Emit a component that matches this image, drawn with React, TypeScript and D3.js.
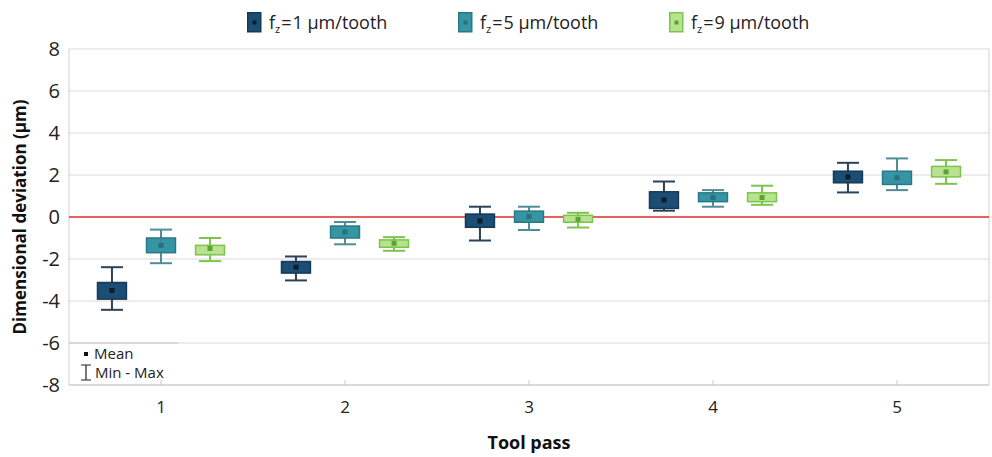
import * as d3 from "d3";
import { useEffect, useRef } from "react";

// tool passes and feed rates
const passes = ["1", "2", "3", "4", "5"];
const series = ["1", "5", "9"];

// [min, q1, mean, q3, max] per pass
const fz1 = [
  [-4.42, -3.91, -3.5, -3.12, -2.39],
  [-3.02, -2.67, -2.39, -2.12, -1.88],
  [-1.12, -0.49, -0.19, 0.14, 0.49],
  [0.3, 0.41, 0.81, 1.2, 1.69],
  [1.17, 1.63, 1.91, 2.18, 2.58],
];
const fz5 = [
  [-2.2, -1.7, -1.35, -1.0, -0.6],
  [-1.3, -1.0, -0.71, -0.43, -0.24],
  [-0.62, -0.25, 0.02, 0.28, 0.49],
  [0.49, 0.73, 0.93, 1.15, 1.28],
  [1.28, 1.55, 1.87, 2.18, 2.79],
];
const fz9 = [
  [-2.1, -1.8, -1.5, -1.35, -1.0],
  [-1.61, -1.44, -1.25, -1.09, -0.96],
  [-0.5, -0.25, -0.11, 0.08, 0.2],
  [0.58, 0.73, 0.93, 1.15, 1.49],
  [1.58, 1.91, 2.15, 2.41, 2.71],
];
const yTicks = [-8, -6, -4, -2, 0, 2, 4, 6, 8];

const fills = ["#1c4e74", "#3595a4", "#b8e28f"];
const strokes = ["#143a57", "#2a7885", "#7cc44c"];
const whiskers = ["#2d4256", "#4f8d97", "#7cc44c"];
const means = ["#0b1e2e", "#2d6f78", "#5aa532"];

const font = "'Open Sans', 'Noto Sans', sans-serif";

function App() {
  const ref = useRef<SVGSVGElement>(null);

  useEffect(() => {
    const width = 992, height = 457;
    const left = 69, right = 989, top = 49, bottom = 385;

    const svg = d3.select(ref.current);
    svg.selectAll("*").remove();

    const x = d3.scaleBand().domain(passes).range([left, right]);
    const x1 = d3.scaleBand().domain(series).range([-63.5, 63.5]).paddingInner(0.41);
    const y = d3.scaleLinear().domain([-8, 8]).range([bottom, top]);

    // grid
    svg.append("g")
      .selectAll("line")
      .data(yTicks)
      .join("line")
      .attr("x1", left).attr("x2", right)
      .attr("y1", (d) => y(d)).attr("y2", (d) => y(d))
      .attr("stroke", "#d9d9d9").attr("stroke-width", 1);

    // frame
    svg.append("line").attr("x1", left).attr("x2", left).attr("y1", top).attr("y2", bottom)
      .attr("stroke", "#d0d0d0");
    svg.append("line").attr("x1", right).attr("x2", right).attr("y1", top).attr("y2", bottom)
      .attr("stroke", "#d0d0d0");
    svg.append("line").attr("x1", left).attr("x2", right).attr("y1", bottom).attr("y2", bottom)
      .attr("stroke", "#c8c8c8");

    // x ticks (inward)
    svg.append("g")
      .selectAll("line")
      .data(passes)
      .join("line")
      .attr("x1", (d) => x(d)! + x.bandwidth() / 2)
      .attr("x2", (d) => x(d)! + x.bandwidth() / 2)
      .attr("y1", bottom).attr("y2", bottom - 5)
      .attr("stroke", "#c8c8c8");

    // zero line
    svg.append("line").attr("x1", left).attr("x2", right).attr("y1", y(0)).attr("y2", y(0))
      .attr("stroke", "#e8312f").attr("stroke-width", 1.3);

    // y tick labels
    svg.append("g")
      .selectAll("text")
      .data(yTicks)
      .join("text")
      .attr("x", left - 9)
      .attr("y", (d) => y(d))
      .attr("dy", "0.35em")
      .attr("text-anchor", "end")
      .style("font-family", font)
      .style("font-size", "20px")
      .attr("fill", "#222")
      .text((d) => d);

    // x tick labels
    svg.append("g")
      .selectAll("text")
      .data(passes)
      .join("text")
      .attr("x", (d) => x(d)! + x.bandwidth() / 2)
      .attr("y", 413)
      .attr("text-anchor", "middle")
      .style("font-family", font)
      .style("font-size", "17px")
      .attr("fill", "#222")
      .text((d) => d);

    // axis titles
    svg.append("text")
      .attr("transform", `translate(26, ${y(0)}) rotate(-90)`)
      .attr("text-anchor", "middle")
      .style("font-family", font)
      .style("font-size", "17px")
      .style("font-weight", "bold")
      .attr("fill", "#111")
      .text("Dimensional deviation (µm)");
    svg.append("text")
      .attr("x", (left + right) / 2)
      .attr("y", 449)
      .attr("text-anchor", "middle")
      .style("font-family", font)
      .style("font-size", "18px")
      .style("font-weight", "bold")
      .attr("fill", "#111")
      .text("Tool pass");

    // boxes
    const all = [fz1, fz5, fz9];
    const capW = 22;
    all.forEach((data, si) => {
      const g = svg.append("g");
      const cx = (i: number) => x(passes[i])! + x.bandwidth() / 2 + x1(series[si])! + x1.bandwidth() / 2;
      const bw = x1.bandwidth();
      const groups = g.selectAll("g").data(data).join("g");
      // whiskers
      groups.append("line")
        .attr("x1", (_, i) => cx(i)).attr("x2", (_, i) => cx(i))
        .attr("y1", (d) => y(d[0])).attr("y2", (d) => y(d[4]))
        .attr("stroke", whiskers[si]).attr("stroke-width", 2);
      groups.append("line")
        .attr("x1", (_, i) => cx(i) - capW / 2).attr("x2", (_, i) => cx(i) + capW / 2)
        .attr("y1", (d) => y(d[0])).attr("y2", (d) => y(d[0]))
        .attr("stroke", whiskers[si]).attr("stroke-width", 2);
      groups.append("line")
        .attr("x1", (_, i) => cx(i) - capW / 2).attr("x2", (_, i) => cx(i) + capW / 2)
        .attr("y1", (d) => y(d[4])).attr("y2", (d) => y(d[4]))
        .attr("stroke", whiskers[si]).attr("stroke-width", 2);
      groups.append("rect")
        .attr("x", (_, i) => cx(i) - bw / 2)
        .attr("width", bw)
        .attr("y", (d) => y(d[3]))
        .attr("height", (d) => y(d[1]) - y(d[3]))
        .attr("fill", fills[si])
        .attr("stroke", strokes[si]).attr("stroke-width", 1.5);
      groups.append("rect")
        .attr("x", (_, i) => cx(i) - 2.5)
        .attr("y", (d) => y(d[2]) - 2.5)
        .attr("width", 5).attr("height", 5)
        .attr("fill", means[si]);
    });

    // top legend
    const legendX = [247, 458, 669];
    series.forEach((s, si) => {
      const lg = svg.append("g").attr("transform", `translate(${legendX[si]}, 12)`);
      lg.append("rect").attr("x", 0.75).attr("y", 0.75).attr("width", 13).attr("height", 19)
        .attr("fill", fills[si]).attr("stroke", strokes[si]).attr("stroke-width", 1.5);
      lg.append("rect").attr("x", 5.5).attr("y", 8.5).attr("width", 4).attr("height", 4)
        .attr("fill", means[si]);
      const t = lg.append("text")
        .attr("x", 22).attr("y", 17)
        .style("font-family", font)
        .style("font-size", "18px")
        .attr("fill", "#222");
      t.append("tspan").text("f");
      t.append("tspan").attr("dy", 4).style("font-size", "11px").text("z");
      t.append("tspan").attr("dy", -4).attr("dx", 1).text("=");
      t.append("tspan").attr("dx", 1).text(`${s} µm/tooth`);
    });

    // inset legend
    svg.append("line").attr("x1", left).attr("x2", 178).attr("y1", y(-6)).attr("y2", y(-6))
      .attr("stroke", "#c4c4c4");
    svg.append("rect").attr("x", 84).attr("y", 352).attr("width", 4).attr("height", 4).attr("fill", "#111");
    svg.append("text").attr("x", 94).attr("y", 359)
      .style("font-family", font).style("font-size", "15px").attr("fill", "#222").text("Mean");
    svg.append("path").attr("d", "M81,365 H91 M86,365 V380 M81,380 H91")
      .attr("stroke", "#222").attr("stroke-width", 1.2).attr("fill", "none");
    svg.append("text").attr("x", 95).attr("y", 378)
      .style("font-family", font).style("font-size", "15px").attr("fill", "#222").text("Min - Max");

    svg.attr("width", width).attr("height", height);
  }, []);

  return (
    <div style={{ position: "absolute", left: 0, top: 0 }}>
      <svg ref={ref} width={992} height={457} style={{ display: "block", background: "#fff" }} />
    </div>
  );
}

export default App;
